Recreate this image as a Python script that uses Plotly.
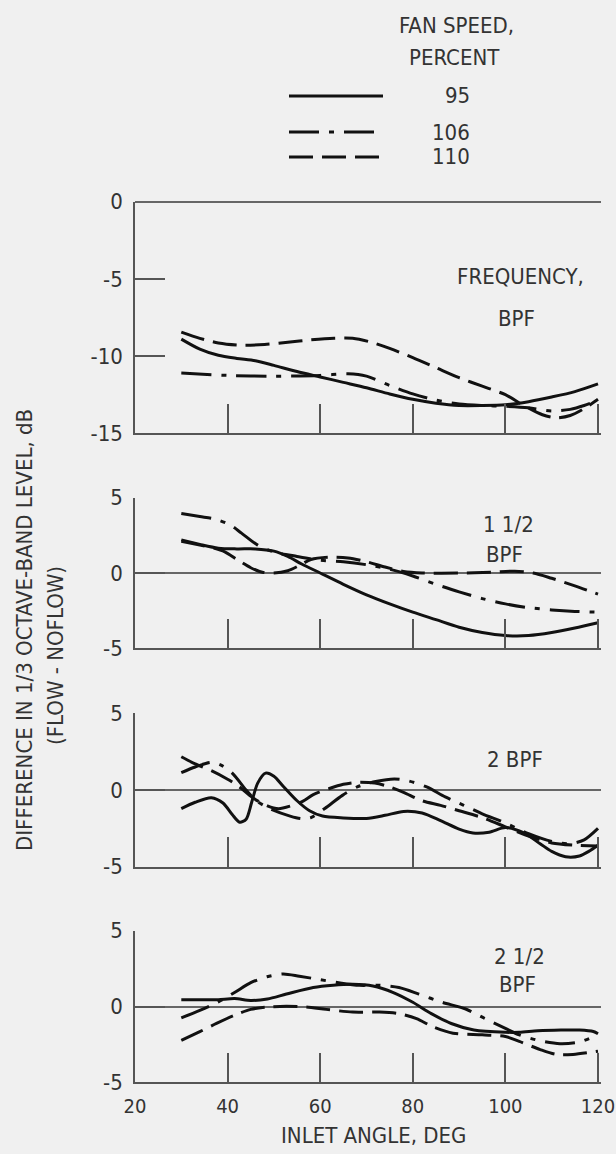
import plotly.graph_objects as go

W, H = 616, 1154
FONT = "Liberation Sans Narrow, Arial Narrow, DejaVu Sans Condensed, Roboto Condensed, Roboto, sans-serif"
TXT = "#333333"
AX = "#555555"
BG = "#f0f0f0"

# ---------------- data ----------------
series_names = ["95", "106", "110"]
series_dash = ["solid", "30px,10px,5px,10px", "24px,9px"]

# Panel 1: FREQUENCY, BPF
p1_x95 = [30, 34, 38, 42, 46, 50, 55, 60, 65, 70, 75, 80, 85, 90, 95, 100, 105, 110, 115, 120]
p1_y95 = [-8.9, -9.55, -9.95, -10.15, -10.3, -10.6, -11.0, -11.35, -11.7, -12.05, -12.45, -12.8, -13.05, -13.2, -13.2, -13.15, -12.95, -12.65, -12.3, -11.8]
p1_x106 = [30, 40, 50, 60, 66, 70, 75, 80, 85, 90, 95, 100, 105, 110, 114, 117, 120]
p1_y106 = [-11.1, -11.25, -11.3, -11.25, -11.15, -11.3, -11.9, -12.45, -12.85, -13.1, -13.2, -13.25, -13.35, -13.55, -13.45, -13.2, -12.85]
p1_x110 = [30, 34, 38, 43, 48, 53, 58, 63, 67, 71, 75, 80, 85, 90, 95, 100, 104, 108, 111, 114, 117, 120]
p1_y110 = [-8.45, -8.85, -9.15, -9.3, -9.25, -9.1, -8.95, -8.85, -8.85, -9.1, -9.5, -10.1, -10.75, -11.4, -11.95, -12.5, -13.2, -13.8, -14.0, -13.85, -13.4, -12.8]

# Panel 2: 1 1/2 BPF
p2_x95 = [30, 34, 38, 42, 46, 50, 53, 56, 60, 65, 70, 75, 80, 85, 90, 95, 100, 105, 110, 115, 120]
p2_y95 = [2.2, 1.9, 1.65, 1.6, 1.6, 1.45, 1.1, 0.6, 0.0, -0.75, -1.45, -2.05, -2.6, -3.1, -3.6, -3.95, -4.15, -4.15, -3.95, -3.65, -3.3]
p2_x106 = [30, 34, 37, 40.5, 43, 46.5, 50, 55, 60, 65, 70, 75, 80, 85, 90, 95, 100, 105, 110, 115, 120]
p2_y106 = [3.95, 3.75, 3.6, 3.2, 2.65, 1.85, 1.4, 1.1, 0.85, 0.75, 0.55, 0.25, -0.2, -0.75, -1.25, -1.7, -2.05, -2.3, -2.45, -2.55, -2.6]
p2_x110 = [30, 34, 37, 39.4, 42, 45, 47.5, 50, 53, 55.5, 58, 62, 66, 70, 74, 78, 82, 90, 97, 102, 106, 110, 115, 120]
p2_y110 = [2.1, 1.85, 1.65, 1.4, 0.9, 0.35, 0.05, 0.0, 0.15, 0.5, 0.9, 1.05, 1.0, 0.75, 0.4, 0.1, 0.0, 0.0, 0.05, 0.12, 0.0, -0.35, -0.85, -1.4]

# Panel 3: 2 BPF
p3_x95 = [30, 33, 36.5, 39, 41, 42.6, 44, 45.2, 46.5, 48.2, 50, 52, 55, 57.7, 60.5, 65, 70, 74, 78, 82, 86, 90, 93, 96.5, 100, 104, 107.5, 110, 113, 116, 118, 120]
p3_y95 = [-1.22, -0.8, -0.5, -0.85, -1.6, -2.1, -1.9, -0.8, 0.45, 1.1, 0.9, 0.25, -0.7, -1.35, -1.7, -1.82, -1.85, -1.65, -1.4, -1.5, -2.0, -2.55, -2.8, -2.75, -2.45, -2.8, -3.5, -4.0, -4.35, -4.3, -4.0, -3.6]
p3_x106 = [30, 33, 36.5, 38.7, 41, 44, 46, 49, 53.5, 56, 58, 61, 64.8, 68, 72, 76, 79, 83, 87, 91, 95, 100, 105, 110, 114, 117, 120]
p3_y106 = [1.13, 1.5, 1.8, 1.6, 1.1, 0.0, -0.65, -1.2, -1.7, -1.87, -1.8, -1.2, -0.35, 0.2, 0.55, 0.72, 0.6, 0.2, -0.45, -1.0, -1.55, -2.15, -2.85, -3.35, -3.5, -3.25, -2.5]
p3_x110 = [30, 33, 36.6, 40, 42.3, 45.4, 48.6, 51, 53.5, 56.3, 58.5, 62, 65, 68, 71.8, 75, 78, 82, 86, 90, 95, 100, 105, 110, 115, 120]
p3_y110 = [2.17, 1.7, 1.24, 0.7, 0.26, -0.5, -1.04, -1.22, -1.05, -0.72, -0.3, 0.1, 0.37, 0.5, 0.45, 0.2, -0.15, -0.7, -1.0, -1.35, -1.8, -2.4, -3.0, -3.45, -3.6, -3.65]

# Panel 4: 2 1/2 BPF
p4_x95 = [30, 35, 38, 41.5, 45, 48.6, 52.7, 58.5, 62.8, 67, 71.4, 75.8, 80, 84, 88.3, 93.2, 100, 103, 107, 112, 116, 119, 120]
p4_y95 = [0.45, 0.45, 0.45, 0.52, 0.4, 0.5, 0.82, 1.25, 1.4, 1.46, 1.35, 0.92, 0.28, -0.47, -1.12, -1.55, -1.7, -1.7, -1.6, -1.55, -1.55, -1.65, -1.8]
p4_x106 = [30, 34, 37.6, 41.5, 45, 48.5, 52, 55.5, 59.8, 64, 68.5, 72.8, 77, 81.3, 86.3, 91.3, 95.6, 100, 103, 107.5, 111.8, 116, 120]
p4_y106 = [-0.75, -0.26, 0.24, 0.92, 1.57, 1.96, 2.15, 2.0, 1.78, 1.57, 1.4, 1.4, 1.25, 0.82, 0.28, -0.15, -0.8, -1.44, -1.87, -2.26, -2.45, -2.34, -1.87]
p4_x110 = [30, 34, 37.6, 41.5, 45, 48.5, 52.7, 57, 61.3, 67, 72.8, 77, 80.8, 84.3, 88.7, 95, 100, 103, 107.5, 111, 114.6, 120]
p4_y110 = [-2.24, -1.66, -1.12, -0.58, -0.19, -0.04, 0.02, -0.04, -0.19, -0.37, -0.37, -0.47, -0.8, -1.33, -1.76, -1.87, -1.98, -2.3, -2.84, -3.16, -3.16, -2.95]

panel_series = [
    [(p1_x95, p1_y95), (p1_x106, p1_y106), (p1_x110, p1_y110)],
    [(p2_x95, p2_y95), (p2_x106, p2_y106), (p2_x110, p2_y110)],
    [(p3_x95, p3_y95), (p3_x106, p3_y106), (p3_x110, p3_y110)],
    [(p4_x95, p4_y95), (p4_x106, p4_y106), (p4_x110, p4_y110)],
]

x_range = [20, 120.6]
x_tickvals = [20, 40, 60, 80, 100, 120]
x_ticktext = ["20", "40", "60", "80", "100", "120"]

y_ranges = [[-15, 0], [-5, 5], [-5, 5], [-5, 5]]
y_tickvals = [[0, -5, -10, -15], [5, 0, -5], [5, 0, -5], [5, 0, -5]]
y_ticktext = [["0", "-5", "-10", "-15"], ["5", "0", "-5"], ["5", "0", "-5"], ["5", "0", "-5"]]

# panel labels: (text, x, y)
panel_labels = [
    [("FREQUENCY,", 103.3, -4.85), ("BPF", 102.4, -7.55)],
    [("1 1/2", 100.7, 3.25), ("BPF", 99.9, 1.2)],
    [("2 BPF", 102.0, 2.0)],
    [("2 1/2", 103.0, 3.3), ("BPF", 102.6, 1.45)],
]

# ---------------- layout geometry (pixels) ----------------
x_left_px = 135
x_right_px = 598 + 0.6 * 4.63
panel_px = [(201.7, 433.3), (497.7, 648.3), (713.3, 866.7), (930.7, 1082.3)]

def py(p):
    return 1 - p / H

fig = go.Figure()

for i, series in enumerate(panel_series):
    n = "" if i == 0 else str(i + 1)
    for (xs, ys), name, dash in zip(series, series_names, series_dash):
        fig.add_trace(go.Scatter(
            x=xs, y=ys, mode="lines", name=name, showlegend=False,
            line=dict(color="#111111", width=3, dash=dash, shape="spline", smoothing=0.8),
            xaxis="x" + n, yaxis="y" + n, hoverinfo="skip",
        ))

axis_font = dict(family=FONT, size=22, color=TXT)
xtick_font = dict(family=FONT, size=20, color=TXT)
layout = dict(
    width=W, height=H,
    margin=dict(l=0, r=0, t=0, b=0, autoexpand=False),
    paper_bgcolor=BG, plot_bgcolor=BG,
    font=axis_font,
    showlegend=False,
)
for i in range(4):
    n = "" if i == 0 else str(i + 1)
    top, bot = panel_px[i]
    last = (i == 3)
    layout["xaxis" + n] = dict(
        domain=[x_left_px / W, x_right_px / W], range=x_range,
        anchor="y" + n, showline=True, linecolor=AX, linewidth=1.5,
        ticks="inside", ticklen=30, tickwidth=1.5, tickcolor=AX,
        tickmode="array", tickvals=x_tickvals, ticktext=x_ticktext,
        showticklabels=last, ticklabelstandoff=5, ticklabeloverflow="allow",
        tickfont=xtick_font,
        showgrid=False, zeroline=False, fixedrange=True,
    )
    layout["yaxis" + n] = dict(
        domain=[py(bot), py(top)], range=y_ranges[i],
        anchor="x" + n, showline=True, linecolor=AX, linewidth=1.5,
        ticks="inside", ticklen=30, tickwidth=1.5, tickcolor=AX,
        tickmode="array", tickvals=y_tickvals[i], ticktext=y_ticktext[i],
        ticklabelstandoff=6,
        showgrid=False, zeroline=True, zerolinecolor="#666666", zerolinewidth=1.5,
        fixedrange=True,
    )
fig.update_layout(**layout)

ann = []
for i, labels in enumerate(panel_labels):
    n = "" if i == 0 else str(i + 1)
    for text, xv, yv in labels:
        ann.append(dict(text=text, x=xv, y=yv, xref="x" + n, yref="y" + n,
                        showarrow=False, xanchor="center", yanchor="middle",
                        font=axis_font))

# axis titles
ann.append(dict(text="INLET ANGLE, DEG", x=373 / W, y=py(1135), xref="paper", yref="paper",
                showarrow=False, xanchor="center", yanchor="middle", font=axis_font))
ann.append(dict(text="DIFFERENCE IN 1/3 OCTAVE-BAND LEVEL, dB", x=25 / W, y=py(630),
                xref="paper", yref="paper", showarrow=False, textangle=-90,
                xanchor="center", yanchor="middle", font=axis_font))
ann.append(dict(text="(FLOW - NOFLOW)", x=55 / W, y=py(656),
                xref="paper", yref="paper", showarrow=False, textangle=-90,
                xanchor="center", yanchor="middle", font=axis_font))

# legend (drawn manually)
legend_title = ["FAN SPEED,", "PERCENT"]
ann.append(dict(text=legend_title[0], x=456 / W, y=py(25), xref="paper", yref="paper",
                showarrow=False, xanchor="center", yanchor="middle", font=axis_font))
ann.append(dict(text=legend_title[1], x=454 / W, y=py(57), xref="paper", yref="paper",
                showarrow=False, xanchor="center", yanchor="middle", font=axis_font))
legend_rows_px = [96, 132, 157]
shapes = []
for name, dash, ypx in zip(series_names, series_dash, legend_rows_px):
    shapes.append(dict(type="line", xref="paper", yref="paper",
                       x0=289 / W, x1=383 / W, y0=py(ypx), y1=py(ypx),
                       line=dict(color="#111111", width=3, dash=dash)))
    ann.append(dict(text=name, x=472 / W, y=py(ypx), xref="paper", yref="paper",
                    showarrow=False, xanchor="right", yanchor="middle", font=axis_font))

fig.update_layout(annotations=ann, shapes=shapes)
fig.write_html("out.html")
